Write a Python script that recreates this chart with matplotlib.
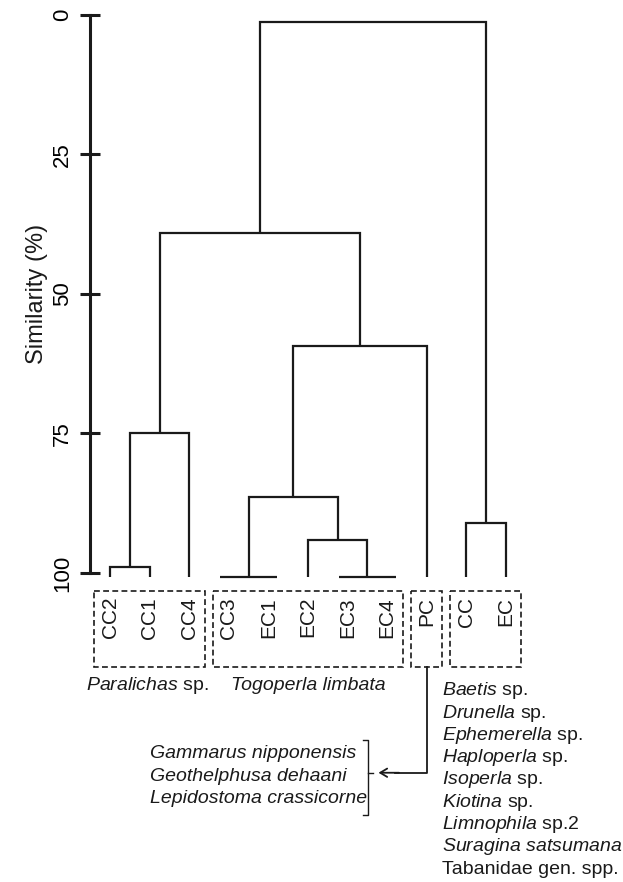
#!/usr/bin/env python3
"""
Dendrogram of site similarity (%) with indicator taxa listed under each cluster.
"""
import matplotlib
matplotlib.use("Agg")
import matplotlib.pyplot as plt
from matplotlib.patches import Rectangle

plt.rcParams['font.family'] = ['Liberation Sans', 'DejaVu Sans']
plt.rcParams['mathtext.fontset'] = 'custom'
plt.rcParams['mathtext.rm'] = 'Liberation Sans'
plt.rcParams['mathtext.it'] = 'Liberation Sans:italic'

# leaves, left to right
LEAVES = ["CC2", "CC1", "CC4", "CC3", "EC1", "EC2", "EC3", "EC4", "PC", "CC", "EC"]
# merges (scipy-style ids: leaves 0..10, new clusters 11..)
MERGE_A = [0, 11, 3, 6, 5, 13, 16, 12, 9, 18]
MERGE_B = [1, 2, 4, 7, 14, 15, 8, 17, 10, 19]
MERGE_H = [99.0, 75.0, 100.0, 100.0, 94.0, 86.4, 59.3, 39.0, 91.0, 1.3]

YTICKS = [0, 25, 50, 75, 100]
GROUPS = [(0, 2), (3, 7), (8, 8), (9, 10)]

PARALICHAS = r"$\it{Paralichas}$ sp."
TOGOPERLA = "Togoperla limbata"
RIGHT_TAXA = [r"$\it{Baetis}$ sp.", r"$\it{Drunella}$ sp.", r"$\it{Ephemerella}$ sp.",
              r"$\it{Haploperla}$ sp.", r"$\it{Isoperla}$ sp.", r"$\it{Kiotina}$ sp.",
              r"$\it{Limnophila}$ sp.2", r"$\it{Suragina\ satsumana}$",
              "Tabanidae gen. spp."]
PC_TAXA = ["Gammarus nipponensis", "Geothelphusa dehaani", "Lepidostoma crassicorne"]

LEAF_BASE = 100.8
LW = 1.6


def main():
    fig = plt.figure(figsize=(6.23, 8.82), dpi=100)
    ax = fig.add_axes([0, 0, 1, 1])
    ax.set_xlim(-2.778, 12.955)
    ax.set_ylim(155.38, -2.688)

    # dendrogram
    xs = {i: float(i) for i in range(len(LEAVES))}
    ys = {i: LEAF_BASE for i in range(len(LEAVES))}
    nid = len(LEAVES)
    for a, b, h in zip(MERGE_A, MERGE_B, MERGE_H):
        hy = LEAF_BASE if h >= 100 else h
        xa, xb, ya, yb = xs[a], xs[b], ys[a], ys[b]
        if ya == hy and yb == hy:
            ax.plot([xa - 0.22, xb + 0.22], [hy, hy], color="0.1", lw=LW,
                    solid_capstyle="butt")
        else:
            ax.plot([xa, xa, xb, xb], [ya, hy, hy, yb], color="0.1", lw=LW,
                    solid_joinstyle="miter", solid_capstyle="butt")
        xs[nid] = (xa + xb) / 2
        ys[nid] = hy
        nid += 1

    # axis
    for s in ["top", "right", "bottom"]:
        ax.spines[s].set_visible(False)
    ax.spines["left"].set_position(("data", -0.505))
    ax.spines["left"].set_bounds(0, 100)
    ax.spines["left"].set_linewidth(2.2)
    ax.spines["left"].set_color("0.1")
    ax.set_yticks(YTICKS)
    ax.tick_params(axis="y", direction="inout", length=14, width=2.2, color="0.1",
                   labelsize=16, pad=5, labelrotation=90)
    for lbl in ax.get_yticklabels():
        lbl.set_va("center")
    ax.tick_params(axis="x", bottom=False, labelbottom=False)
    ax.text(-1.843, 50, "Similarity (%)", rotation=90, ha="center", va="center",
            fontsize=17, color="0.1")

    # leaf labels
    for i, name in enumerate(LEAVES):
        ax.text(i, 104.3, name, rotation=90, ha="center", va="top", fontsize=15,
                color="0.1")

    # dashed group boxes
    for lo, hi in GROUPS:
        ax.add_patch(Rectangle((lo - 0.41, 103.2), hi - lo + 0.8, 13.6, fill=False,
                               ls=(0, (3.5, 2)), lw=1.2, ec="0.1"))

    # taxa
    ax.text(0.95, 120.2, PARALICHAS, ha="center", va="center", fontsize=14, color="0.1")
    ax.text(5.0, 120.2, TOGOPERLA, ha="center", va="center", fontsize=14,
            style="italic", color="0.1")
    for k, t in enumerate(RIGHT_TAXA):
        ax.text(8.38, 121.1 + 4.0 * k, t, ha="left", va="center", fontsize=14,
                color="0.1")
    for k, t in enumerate(PC_TAXA):
        ax.text(1.01, 132.3 + 4.1 * k, t, ha="left", va="center", fontsize=14,
                style="italic", color="0.1")

    # bracket and arrow from PC box
    ax.plot([6.38, 6.515, 6.515, 6.38], [129.9, 129.9, 143.4, 143.4], color="0.1", lw=1.0)
    ax.plot([6.515, 6.64], [135.8, 135.8], color="0.1", lw=1.0)
    ax.plot([8.0, 8.0, 7.2], [116.8, 135.8, 135.8], color="0.1", lw=1.3)
    ax.annotate("", xy=(6.78, 135.8), xytext=(7.3, 135.8),
                arrowprops=dict(arrowstyle="->,head_length=0.5,head_width=0.3",
                                color="0.1", lw=1.3, shrinkA=0, shrinkB=0))

    fig.savefig("out.png", dpi=100)
    plt.close(fig)


if __name__ == "__main__":
    main()
